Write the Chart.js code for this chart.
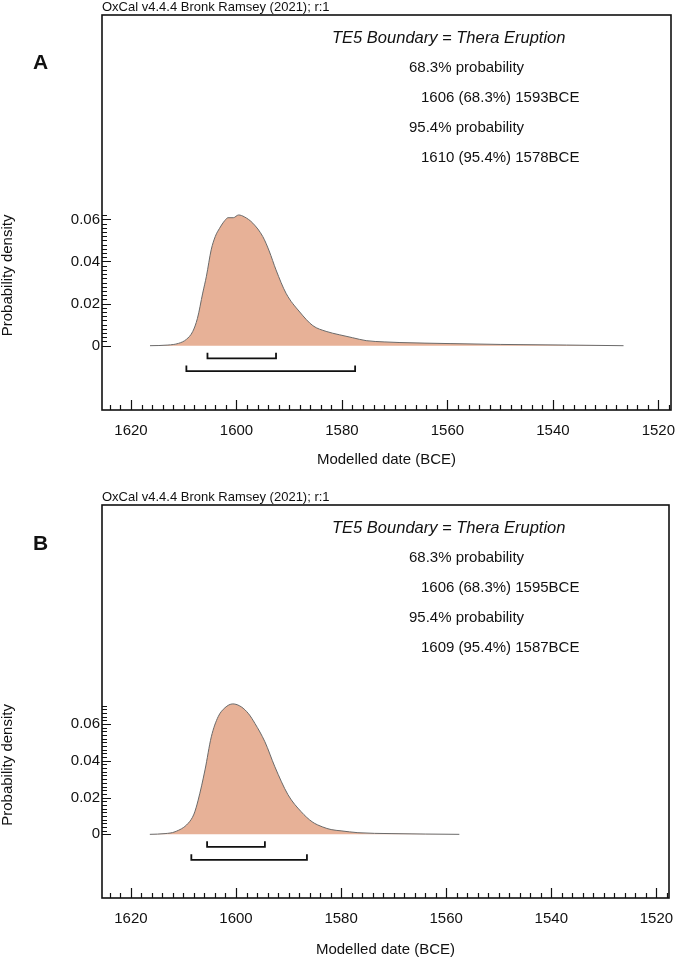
<!DOCTYPE html>
<html>
<head>
<meta charset="utf-8">
<title>TE5 Boundary = Thera Eruption</title>
<script src="https://cdn.jsdelivr.net/npm/chart.js@4.4.1/dist/chart.umd.min.js"></script>
<style>
  body { margin: 0; background: #fff; font-family: 'Liberation Sans', Arial, sans-serif; color: #111; }
  .panel { position: absolute; left: 0; width: 677px; height: 480px; }
  .panel canvas { position: absolute; left: 0; top: 0; }
  .txt { position: absolute; white-space: nowrap; font-size: 15px; line-height: 18px; }
  .head { font-size: 13px; line-height: 14px; }
  .letter { font-weight: bold; font-size: 21px; line-height: 24px; }
  .name { font-style: italic; font-size: 16.5px; }
</style>
</head>
<body>
<div class="panel" id="panelA" style="top:0px">
  <canvas id="chartA" width="677" height="480"></canvas>
</div>
<div class="panel" id="panelB" style="top:490px">
  <canvas id="chartB" width="677" height="480"></canvas>
</div>
<script>
// Panel A: posterior density of the TE5 boundary (years BCE)
const densityYearsA = [1616.4, 1613.0, 1611.0, 1609.5, 1608.3, 1607.4, 1606.4, 1605.7, 1604.8, 1604.0,
  1603.2, 1602.2, 1601.6, 1600.6, 1599.6, 1598.5, 1596.9, 1595.0, 1593.8, 1592.5,
  1590.6, 1588.0, 1585.5, 1583.0, 1580.5, 1578.0, 1575.4, 1572.0, 1569.0, 1559.5,
  1550.0, 1537.4, 1526.6];
const densityA = [0, 0.0003, 0.0011, 0.0030, 0.0067, 0.0130, 0.0250, 0.0330, 0.0455, 0.0520,
  0.0558, 0.0595, 0.0608, 0.0608, 0.0621, 0.0612, 0.0582, 0.0518, 0.0450, 0.0360,
  0.0249, 0.0160, 0.0095, 0.0068, 0.0052, 0.0038, 0.0024, 0.0018, 0.0015, 0.0010,
  0.0006, 0.0003, 0];
const range68A = [1606, 1593];
const range95A = [1610, 1578];

// Panel B
const densityYearsB = [1616.4, 1613.5, 1611.6, 1609.1, 1608.0, 1607.2, 1605.9, 1604.7, 1603.4, 1602.1,
  1600.6, 1599.0, 1597.6, 1596.4, 1594.5, 1592.6, 1590.1, 1587.6, 1585.5, 1583.5,
  1581.9, 1580.0, 1576.8, 1570.5, 1557.5];
const densityB = [0, 0.0004, 0.0014, 0.0060, 0.0110, 0.0186, 0.0350, 0.0530, 0.0639, 0.0688,
  0.0709, 0.0693, 0.0655, 0.0603, 0.0503, 0.0367, 0.0215, 0.0123, 0.0068, 0.0040,
  0.0026, 0.0019, 0.0009, 0.0004, 0];
const range68B = [1606, 1595];
const range95B = [1609, 1587];

// axes
const xTickYears = [1620, 1600, 1580, 1560, 1540, 1520];
const yTickValues = [0, 0.02, 0.04, 0.06];

const FONT = "'Liberation Sans', Arial, sans-serif";
const INK = '#111';
const PEACH = 'rgb(231, 177, 151)';

// frame, inward tick marks and the y title, all placed with the chart's scales
const frameTicks = {
  id: 'frameTicks',
  afterDatasetsDraw(chart, args, opts) {
    const { ctx, chartArea: a, scales: { x, y } } = chart;
    ctx.save();
    ctx.strokeStyle = INK;
    ctx.lineWidth = 1.6;
    ctx.strokeRect(a.left, a.top, a.right - a.left, a.bottom - a.top);

    ctx.lineWidth = 1.2;
    ctx.beginPath();
    const lo = Math.min(x.min, x.max), hi = Math.max(x.min, x.max);
    for (let yr = Math.ceil(lo / 2) * 2; yr <= hi; yr += 2) {
      const px = Math.round(x.getPixelForValue(yr)) + 0.5;
      const len = yr % 20 === 0 ? 10 : 5;
      ctx.moveTo(px, a.bottom);
      ctx.lineTo(px, a.bottom - len);
    }
    for (let i = 0; i * 0.002 <= opts.yTop + 1e-9; i++) {
      const py = Math.round(y.getPixelForValue(i * 0.002)) + 0.5;
      const len = i % 10 === 0 ? 9 : 5;
      ctx.moveTo(a.left, py);
      ctx.lineTo(a.left + len, py);
    }
    ctx.stroke();

    // y axis title sits beside the drawn part of the axis
    const mid = (y.getPixelForValue(0) + y.getPixelForValue(opts.yTop)) / 2 - 5;
    ctx.translate(8, mid);
    ctx.rotate(-Math.PI / 2);
    ctx.fillStyle = INK;
    ctx.font = '15px ' + FONT;
    ctx.textAlign = 'center';
    ctx.textBaseline = 'middle';
    ctx.fillText('Probability density', 0, 0);
    ctx.restore();
  }
};

function bracket(r, lv) {
  // OxCal marks each range from the middle of the calendar year
  return [
    { x: r[0] - 0.5, y: lv[0] }, { x: r[0] - 0.5, y: lv[1] },
    { x: r[1] - 0.5, y: lv[1] }, { x: r[1] - 0.5, y: lv[0] }
  ];
}

function makePanel(canvasId, years, density, r68, r95, cfg) {
  const curve = years.map((yr, i) => ({ x: yr, y: density[i] })).sort((p, q) => p.x - q.x);
  const tickFont = { size: 15, family: FONT };
  return new Chart(document.getElementById(canvasId), {
    type: 'scatter',
    data: {
      datasets: [
        { data: curve, showLine: true, fill: 'origin', backgroundColor: PEACH,
          borderColor: '#6a6a6a', borderWidth: 1, pointRadius: 0, cubicInterpolationMode: 'monotone' },
        { data: bracket(r68, cfg.level68), showLine: true, fill: false, borderColor: INK,
          borderWidth: 1.8, pointRadius: 0, tension: 0 },
        { data: bracket(r95, cfg.level95), showLine: true, fill: false, borderColor: INK,
          borderWidth: 1.8, pointRadius: 0, tension: 0 }
      ]
    },
    options: {
      responsive: false,
      animation: false,
      devicePixelRatio: 1,
      layout: { padding: { top: 15, right: 677 - cfg.right, bottom: 11, left: 0 } },
      plugins: {
        legend: { display: false },
        tooltip: { enabled: false },
        frameTicks: { yTop: cfg.yTop }
      },
      scales: {
        x: {
          type: 'linear', reverse: true, min: 1517.6, max: 1625.5,
          afterBuildTicks: s => { s.ticks = xTickYears.map(v => ({ value: v })); },
          afterFit: s => {
            s.height = cfg.xAxisHeight;
            s.paddingLeft = 0;
            s.paddingRight = 0;
          },
          grid: { display: false, drawTicks: false },
          border: { display: false },
          ticks: { padding: 12, color: INK, font: tickFont, maxRotation: 0, autoSkip: false,
                   callback: v => String(v) },
          title: { display: true, text: 'Modelled date (BCE)', color: INK, font: tickFont, padding: 0 }
        },
        y: {
          type: 'linear', min: cfg.yMin, max: cfg.yMax,
          afterBuildTicks: s => { s.ticks = yTickValues.map(v => ({ value: v })); },
          afterFit: s => {
            s.width = 102;
            s.paddingTop = 0;
            s.paddingBottom = 0;
          },
          grid: { display: false, drawTicks: false },
          border: { display: false },
          ticks: { padding: 2, color: INK, font: tickFont,
                   callback: v => v === 0 ? '0' : v.toFixed(2) }
        }
      }
    },
    plugins: [frameTicks]
  });
}

function addText(panelId, cls, left, centerY, text) {
  const d = document.createElement('div');
  d.className = 'txt ' + cls;
  d.style.left = left + 'px';
  const lh = cls.includes('head') ? 14 : cls.includes('letter') ? 24 : 18;
  d.style.top = (centerY - lh / 2) + 'px';
  d.textContent = text;
  document.getElementById(panelId).appendChild(d);
}

function annotate(panelId, letter, letterY, r68, r95) {
  addText(panelId, 'head', 102, 7, 'OxCal v4.4.4 Bronk Ramsey (2021); r:1');
  addText(panelId, 'letter', 33, letterY, letter);
  addText(panelId, 'name', 332, 37, 'TE5 Boundary = Thera Eruption');
  addText(panelId, '', 409, 67, '68.3% probability');
  addText(panelId, '', 421, 97, r68[0] + ' (68.3%) ' + r68[1] + 'BCE');
  addText(panelId, '', 409, 127, '95.4% probability');
  addText(panelId, '', 421, 157, r95[0] + ' (95.4%) ' + r95[1] + 'BCE');
}

makePanel('chartA', densityYearsA, densityA, range68A, range95A, {
  right: 671, xAxisHeight: 59, yMin: -0.03055, yMax: 0.1571, yTop: 0.062,
  level68: [-0.0033, -0.0060], level95: [-0.0094, -0.0121]
});
makePanel('chartB', densityYearsB, densityB, range68B, range95B, {
  right: 669, xAxisHeight: 61, yMin: -0.0346, yMax: 0.179, yTop: 0.070,
  level68: [-0.0037, -0.0068], level95: [-0.0108, -0.0139]
});

annotate('panelA', 'A', 62, range68A, range95A);
annotate('panelB', 'B', 53, range68B, range95B);
</script>
</body>
</html>
